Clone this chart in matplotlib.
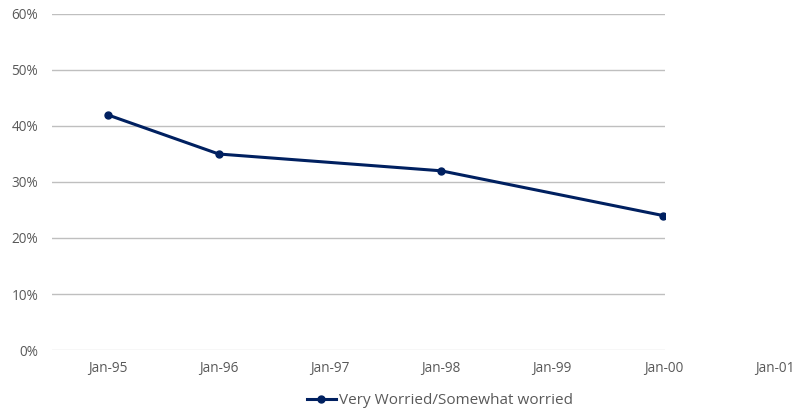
import matplotlib
matplotlib.use("Agg")
import matplotlib.pyplot as plt
import matplotlib.transforms as mtransforms
from matplotlib.ticker import FuncFormatter

# data
tick_labels = ["Jan-95", "Jan-96", "Jan-97", "Jan-98", "Jan-99", "Jan-00", "Jan-01"]
tick_years = [0, 1, 2, 3, 4, 5, 6]          # years since Jan-95
point_years = [0, 1, 3, 5]
worried = [0.42, 0.35, 0.32, 0.24]
series_name = "Very Worried/Somewhat worried"

navy = "#002060"
grey_txt = "#595959"

plt.rcParams["font.family"] = ["Open Sans", "DejaVu Sans"]

fig = plt.figure(figsize=(7.98, 4.13), dpi=100)
ax = fig.add_axes([52 / 798, 1 - 350 / 413, (665 - 52) / 798, (350 - 14) / 413])

line, = ax.plot(point_years, worried, color=navy, lw=2.2, marker="o", ms=5,
                label=series_name, zorder=3)

ax.set_ylim(0, 0.6)
ax.set_yticks([i / 10 for i in range(7)])
ax.yaxis.set_major_formatter(FuncFormatter(lambda v, p: f"{v:.0%}"))
ax.set_xlim(-0.5, 5.015)
ax.set_xticks(tick_years[:-1])
ax.set_xticklabels(tick_labels[:-1])

ax.grid(axis="y", color="#bfbfbf", lw=1)
ax.get_ygridlines()[0].set_color("#d9d9d9")
ax.set_axisbelow(True)
for s in ax.spines.values():
    s.set_visible(False)
ax.tick_params(length=0, labelsize=9.8, colors=grey_txt, pad=8)
ax.tick_params(axis="y", pad=10)

# last tick label sits past the plot area
trans = mtransforms.blended_transform_factory(ax.transData, ax.transAxes)
ax.text(tick_years[-1], 0, tick_labels[-1], ha="center", va="top",
        fontsize=9.8, color=grey_txt, clip_on=False,
        transform=trans + mtransforms.ScaledTranslation(0, -8 / 72, fig.dpi_scale_trans))

fig.legend(handles=[line], loc="center", bbox_to_anchor=(440 / 798, 1 - 401 / 413),
           frameon=False, fontsize=11, handlelength=1.9, handletextpad=0.2,
           labelcolor=grey_txt)

fig.savefig("out.png", dpi=100)
